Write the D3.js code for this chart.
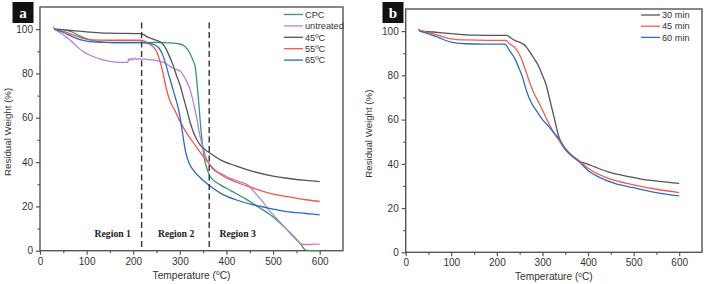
<!DOCTYPE html>
<html><head><meta charset="utf-8">
<script src="https://cdn.jsdelivr.net/npm/d3@7"></script>
<style>body{margin:0;background:#fff}svg{display:block}</style>
</head><body>
<svg id="c" width="705" height="284"></svg>
<script>
// ---- data (Temperature °C, Residual Weight %) ----
const xTicks = [0,100,200,300,400,500,600];
const yTicks = [0,20,40,60,80,100];
const regionLabels = ["Region 1","Region 2","Region 3"];
const regionLabelX = [156, 292, 424];
const regionBounds = [218, 363];

const cpcT = [30,50,70,90,110,130,160,200,250,280,300,312,322,328,333,340,346,352,359,365,387,410,440,470,494,515,530,545,558,570,585,600];
const cpcW = [100,99.8,98.6,96.5,95,94.3,93.8,93.8,94,93.8,93.3,92,89,86,83,68,53,42.5,36.5,33.5,29.7,27,23.5,19.5,16.2,12.5,9.5,6.3,3.3,0.3,0,0];

const untT = [28,35,50,65,80,95,110,130,150,170,188,191,194,197,200,204,208,212,218,225,232,240,250,260,270,280,290,301,312,322,330,337,342,347,352,358,365,372,387,410,430,445,465,480,494,510,530,545,558,565,580,590,600];
const untW = [101,99.5,97.5,95,92,89.5,88,86.5,85.5,85,85,86.7,86,86.8,86.2,86.9,86.3,86.7,86.4,86.6,86.2,86.1,85.8,85.3,84.5,83,82,81,77.5,72.7,66,59,53,48.5,45,41,38.5,36.5,35,32.5,31,29.7,25.2,21.5,17.6,14,9.4,6,3.3,2.8,2.8,3,3];

const c45T = [30,60,100,150,215,220,230,245,260,268,276,285,293,300,308,315,322,330,338,345,355,365,387,420,458,500,530,570,600];
const c45W = [100,99.5,98.8,98.2,98,97.8,96.5,95.3,94,92,88.5,84,79,75,69,63.6,58,53,49.5,47.3,45.5,44,41,38.3,35.7,33.7,32.7,31.7,31.2];

const c55T = [30,50,70,90,110,150,215,225,240,250,258,264,270,278,290,300,315,330,345,360,370,387,420,458,500,530,570,600];
const c55W = [100,99,97.5,96,95.2,95,95,94.5,92.5,90,85,80,74,68,63,58.5,53,48.5,44,40,37.5,34.5,31,28.2,25.5,24.4,23,22.2];

const c65T = [30,50,70,90,110,150,215,230,245,255,262,270,278,285,292,298,303,308,313,320,330,345,360,387,420,458,500,530,570,600];
const c65W = [100,98.5,96.5,95,94.3,94,94,93.7,93,91.5,89,84,78,73,68,63,57,50,44,39.5,36,32.7,30,26,23,20.7,18.8,17.6,16.8,16.2];

const m30T = [28,32,60,100,150,200,222,230,240,256,265,271,282,292,300,307,315,322,329,336,343,351,365,380,400,416,450,489,520,560,600];
const m30W = [101,100,99.6,98.9,98.2,98.1,98.1,97,95.7,94.4,92.8,91,87.5,84,80,76.4,70,64,58,52.2,48.5,46.2,43.5,41.3,39.8,38.5,36,34.2,33,32,31.2];

const m45T = [30,50,70,100,130,180,220,227,241,252,260,270,280,293,303,314,325,336,350,365,380,400,445,500,550,600];
const m45W = [100.3,99.3,98.2,96.5,96,95.8,95.8,94.4,92.2,88.4,84,78,72.5,67.3,63,58.3,54,50.7,46.7,43.8,41.5,38,33.4,30.5,28.5,27];

const m60T = [30,50,70,100,130,170,218,227,241,250,256,262,267,276,286,300,314,325,336,350,365,380,400,430,460,500,550,600];
const m60W = [100,98.8,97.3,95,94.3,94.1,94.1,91.4,86.9,82.5,79.3,75,71.8,67.5,64.3,60,56.8,54,51.5,47,43.5,41,37,33.4,31,29.2,27,25.5];

const leftNames = ["CPC","untreated","45\u00baC","55\u00baC","65\u00baC"];
const rightNames = ["30 min","45 min","60 min"];

// ---- styles ----
const leftColors = ["#35986b","#b97fdc","#555555","#ec5a4c","#2a6cc6"];
const rightColors = ["#555555","#ee5d50","#2a6cc8"];
const axisColor = "#555";
const FONT = "Arial, 'Liberation Sans', sans-serif";

const svg = d3.select("#c");

function zip(T, W){ return T.map((t,i)=>({t:t, w:W[i]})); }

function panel(g, cfg){
  const x = d3.scaleLinear().domain([0,650]).range([cfg.x0, cfg.x1]);
  const y = d3.scaleLinear().domain([0,110]).range([cfg.y1, cfg.y0]);

  g.append("rect").attr("x",cfg.x0).attr("y",cfg.y0)
    .attr("width",cfg.x1-cfg.x0).attr("height",cfg.y1-cfg.y0)
    .attr("fill","none").attr("stroke",axisColor).attr("stroke-width",1.4);

  g.append("g").attr("transform",`translate(0,${cfg.y1})`)
    .call(d3.axisBottom(x).tickValues(xTicks).tickSize(4).tickPadding(3).tickFormat(d3.format("d")));
  g.append("g").attr("transform",`translate(0,${cfg.y1})`)
    .call(d3.axisBottom(x).tickValues([50,150,250,350,450,550]).tickSize(2.5).tickFormat(""));
  g.append("g").attr("transform",`translate(${cfg.x0},0)`)
    .call(d3.axisLeft(y).tickValues(yTicks).tickSize(4).tickPadding(3).tickFormat(d3.format("d")));
  g.append("g").attr("transform",`translate(${cfg.x0},0)`)
    .call(d3.axisLeft(y).tickValues([10,30,50,70,90]).tickSize(2.5).tickFormat(""));
  g.selectAll(".domain").remove();
  g.selectAll(".tick line").attr("stroke",axisColor).attr("stroke-width",1.2);
  g.selectAll(".tick text").attr("fill","#333").style("font-family",FONT).style("font-size","10px");

  const xt = g.append("text").attr("x",(cfg.x0+cfg.x1)/2).attr("y",cfg.y1+28)
    .attr("text-anchor","middle").attr("fill","#333")
    .style("font-family",FONT).style("font-size","10.2px");
  xt.append("tspan").text("Temperature (");
  xt.append("tspan").text("o").attr("dy",-3.5).style("font-size","6.5px");
  xt.append("tspan").text("C)").attr("dy",3.5);
  g.append("text").attr("transform",`translate(${cfg.titleX},${(cfg.y0+cfg.y1)/2+3}) rotate(-90)`)
    .attr("text-anchor","middle").attr("fill","#333")
    .style("font-family",FONT).style("font-size","9.7px").text("Residual Weight (%)");

  g.append("rect").attr("x",cfg.bx).attr("y",2).attr("width",21).attr("height",21).attr("fill","#111");
  g.append("text").attr("x",cfg.bx+10.5).attr("y",17.5).attr("text-anchor","middle")
    .attr("fill","#fff").style("font-family","'Liberation Serif','Times New Roman',serif")
    .style("font-weight","bold").style("font-size","15px").text(cfg.letter);

  const line = d3.line().x(d=>x(d.t)).y(d=>y(d.w)).curve(d3.curveMonotoneX);
  cfg.series.forEach((s,i)=>{
    g.append("path").datum(zip(s[0],s[1])).attr("d",line)
      .attr("fill","none").attr("stroke",cfg.colors[i]).attr("stroke-width",1.3);
  });

  cfg.names.forEach((n,i)=>{
    const ly = cfg.ly0 + i*cfg.ldy;
    g.append("line").attr("x1",cfg.lx).attr("x2",cfg.lx+19).attr("y1",ly).attr("y2",ly)
      .attr("stroke",cfg.colors[i]).attr("stroke-width",1.3);
    g.append("text").attr("x",cfg.lx+21).attr("y",ly+3.2).attr("fill","#333")
      .style("font-family",FONT).style("font-size","9.2px").text(n);
  });
  return {x,y};
}

const L = panel(svg.append("g"), {
  x0:40, x1:343, y0:7, y1:250.7, titleX:11, bx:12.5, letter:"a",
  series:[[cpcT,cpcW],[untT,untW],[c45T,c45W],[c55T,c55W],[c65T,c65W]],
  colors:leftColors, names:leftNames, lx:284, ly0:14.5, ldy:11.4
});

regionBounds.forEach(b=>{
  svg.append("line").attr("x1",L.x(b)).attr("x2",L.x(b)).attr("y1",L.y(103)).attr("y2",L.y(0))
    .attr("stroke","#333").attr("stroke-width",1.4).attr("stroke-dasharray","6,3.5");
});
regionLabels.forEach((r,i)=>{
  svg.append("text").attr("x",L.x(regionLabelX[i])).attr("y",L.y(6.3)).attr("text-anchor","middle")
    .attr("fill","#222").style("font-family","'Liberation Serif','Times New Roman',serif")
    .style("font-weight","bold").style("font-size","9.7px").text(r);
});

panel(svg.append("g"), {
  x0:405.7, x1:702, y0:9, y1:252.3, titleX:372, bx:382.5, letter:"b",
  series:[[m30T,m30W],[m45T,m45W],[m60T,m60W]],
  colors:rightColors, names:rightNames, lx:641, ly0:15, ldy:11.2
});
</script>
</body></html>
